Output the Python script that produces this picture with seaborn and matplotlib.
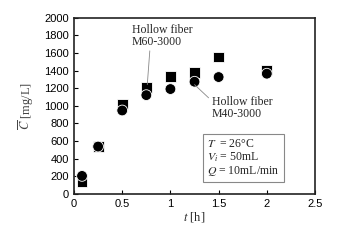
import pandas as pd
import matplotlib.pyplot as plt
import seaborn as sns

t_h = [0.083, 0.25, 0.5, 0.75, 1.0, 1.25, 1.5, 2.0]
m60 = [136, 540, 1020, 1204, 1330, 1378, 1553, 1405]
m40 = [205, 538, 947, 1121, 1190, 1273, 1326, 1364]

df = pd.concat([
    pd.DataFrame({'t': t_h, 'C': m60, 'membrane': 'M60-3000'}),
    pd.DataFrame({'t': t_h, 'C': m40, 'membrane': 'M40-3000'}),
])

sns.set_style('ticks')
plt.rcParams['font.family'] = ['Liberation Sans', 'DejaVu Sans']
plt.rcParams['mathtext.fontset'] = 'stix'

fig = plt.figure(figsize=(3.38, 2.41), dpi=100)
ax = fig.add_axes([0.219, 0.195, 0.713, 0.732])

sns.scatterplot(data=df, x='t', y='C', style='membrane', markers={'M60-3000': 's', 'M40-3000': 'o'},
                color='black', s=60, edgecolor='white', linewidth=0.6, legend=False, ax=ax, zorder=3)

ax.set_xlim(0, 2.5)
ax.set_ylim(0, 2000)
ax.set_xticks([0, 0.5, 1, 1.5, 2, 2.5])
ax.set_xticklabels(['0', '0.5', '1', '1.5', '2', '2.5'])
ax.set_yticks(range(0, 2001, 200))
ax.tick_params(direction='in', length=3, width=0.8, labelsize=8, colors='black')
for sp in ax.spines.values():
    sp.set_linewidth(1.2)
    sp.set_color('#222222')

serif = 'Liberation Serif'
ax.set_xlabel(r'$t$ [h]', fontsize=9, family=serif, labelpad=1)
ax.set_ylabel(r'$\overline{C}$ [mg/L]', fontsize=9, family=serif, color='#444444', labelpad=6)

ax.annotate('Hollow fiber\nM60-3000', xy=(0.76, 1240), xytext=(0.6, 1660), fontsize=8.5, family=serif,
            ha='left', va='bottom', linespacing=1.0,
            arrowprops=dict(arrowstyle='-', color='#888888', lw=0.6, shrinkA=0, shrinkB=0,
                            relpos=(0.3, 0)))
ax.annotate('Hollow fiber\nM40-3000', xy=(1.25, 1240), xytext=(1.43, 1110), fontsize=8.5, family=serif,
            ha='left', va='top', linespacing=1.0,
            arrowprops=dict(arrowstyle='-', color='#888888', lw=0.6, shrinkA=0, shrinkB=0,
                            relpos=(0, 0.8)))

ax.text(1.38, 640, '$T$  = 26\u00b0C\n$V_i$ = 50mL\n$Q$ = 10mL/min', fontsize=8.5, family=serif,
        ha='left', va='top', linespacing=1.05,
        bbox=dict(boxstyle='square,pad=0.35', fc='white', ec='#888888', lw=0.8))

fig.savefig('out.png', dpi=100)
